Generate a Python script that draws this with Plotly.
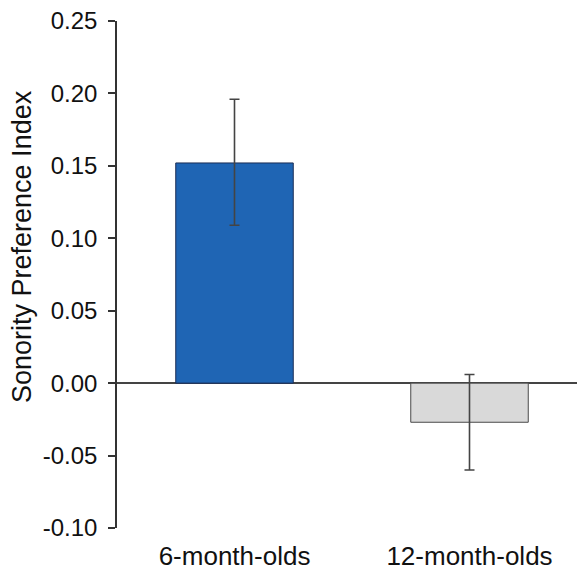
import plotly.graph_objects as go

categories = ["6-month-olds", "12-month-olds"]
values = [0.152, -0.027]
err_plus = [0.044, 0.033]
err_minus = [0.043, 0.033]
bar_colors = ["#1f65b4", "#d9d9d9"]
bar_lines = ["#1b2c55", "#4a4a4a"]
y_ticks = [-0.10, -0.05, 0.00, 0.05, 0.10, 0.15, 0.20, 0.25]
y_title = "Sonority Preference Index"

fig = go.Figure()
fig.add_trace(go.Bar(
    x=categories, y=values, width=0.5,
    marker=dict(color=bar_colors, line=dict(color=bar_lines, width=1)),
    error_y=dict(type="data", symmetric=False, array=err_plus, arrayminus=err_minus,
                 color="#444", thickness=1.6, width=5),
))

W, H = 577, 571
left, right, top, bottom = 117, 0, 21, 43
plot_w = W - left - right
plot_h = H - top - bottom
span = plot_w / 235.0
fig.update_layout(
    width=W, height=H,
    margin=dict(l=left, r=right, t=top, b=bottom),
    plot_bgcolor="white", paper_bgcolor="white",
    showlegend=False,
    font=dict(family="Liberation Sans, Arial, sans-serif", size=24, color="#111"),
)
fig.add_annotation(
    text=y_title, textangle=-90, showarrow=False,
    xref="paper", yref="paper",
    x=(22 - left) / plot_w, y=(H - bottom - 247) / plot_h,
    xanchor="center", yanchor="middle",
    font=dict(size=27, color="#111"),
)
fig.update_xaxes(
    range=[-0.5, -0.5 + span], showline=False, showgrid=False, zeroline=False,
    ticks="", ticklabelstandoff=10, tickfont=dict(size=26), automargin=False,
)
fig.update_yaxes(
    range=[-0.10, 0.25], tickvals=y_ticks, ticktext=[f"{v:.2f}" for v in y_ticks],
    showline=True, linecolor="#333", linewidth=1.5, ticks="outside", ticklen=7,
    tickcolor="#333", tickwidth=1.5, showgrid=False,
    zeroline=True, zerolinecolor="#444", zerolinewidth=1.5,
    tickfont=dict(size=24), ticklabelstandoff=6, automargin=False,
)
fig.write_html("out.html", config={"displayModeBar": False},
               post_script="document.body.style.margin='0';document.body.style.overflow='hidden';")
